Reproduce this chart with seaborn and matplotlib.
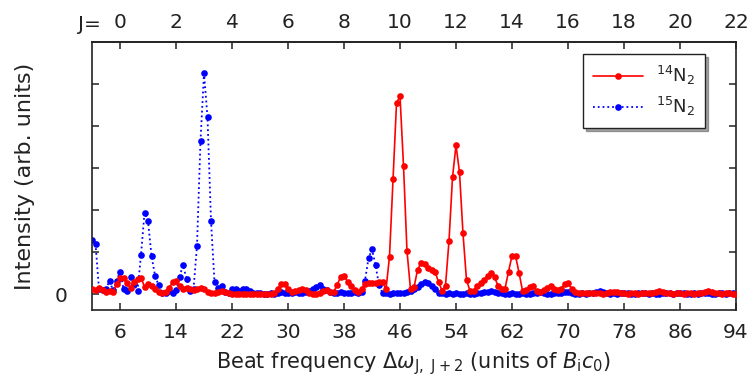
import numpy as np
import matplotlib
matplotlib.use("Agg")
import matplotlib.pyplot as plt
import seaborn as sns

# Beat-frequency grid (units of B_i c_0), sampled every half unit
beat_freq = np.arange(2.0, 94.01, 0.5)

# 14N2 Fourier intensity (arb. units)
n14_intensity = [
    0.12, 0.10, 0.15, 0.10, 0.06, 0.08, 0.05, 0.25, 0.40, 0.38,
    0.28, 0.15, 0.30, 0.36, 0.40, 0.18, 0.25, 0.20, 0.12, 0.05,
    0.04, 0.06, 0.15, 0.29, 0.33, 0.20, 0.14, 0.16, 0.12, 0.10,
    0.14, 0.16, 0.12, 0.06, 0.04, 0.03, 0.05, 0.08, 0.06, 0.04,
    0.02, 0.02, 0.01, 0.02, 0.01, 0.00, 0.00, 0.00, 0.01, 0.00,
    0.01, 0.02, 0.03, 0.12, 0.24, 0.24, 0.12, 0.05, 0.08, 0.10,
    0.12, 0.10, 0.04, 0.02, 0.02, 0.04, 0.08, 0.10, 0.05, 0.05,
    0.22, 0.41, 0.44, 0.30, 0.20, 0.10, 0.05, 0.12, 0.24, 0.27,
    0.28, 0.28, 0.30, 0.30, 0.12, 0.90, 2.74, 4.54, 4.72, 3.06,
    1.03, 0.12, 0.17, 0.58, 0.75, 0.72, 0.64, 0.59, 0.54, 0.30,
    0.09, 0.21, 1.27, 2.78, 3.55, 2.90, 1.45, 0.34, 0.09, 0.09,
    0.20, 0.26, 0.34, 0.44, 0.50, 0.42, 0.20, 0.12, 0.14, 0.54,
    0.92, 0.92, 0.52, 0.09, 0.10, 0.18, 0.20, 0.09, 0.06, 0.10,
    0.16, 0.20, 0.14, 0.10, 0.14, 0.24, 0.26, 0.14, 0.06, 0.04,
    0.03, 0.03, 0.04, 0.03, 0.03, 0.03, 0.02, 0.03, 0.05, 0.06,
    0.06, 0.04, 0.03, 0.02, 0.03, 0.03, 0.02, 0.03, 0.03, 0.04,
    0.04, 0.05, 0.07, 0.06, 0.04, 0.03, 0.02, 0.03, 0.03, 0.02,
    0.03, 0.03, 0.02, 0.03, 0.04, 0.05, 0.07, 0.06, 0.04, 0.03,
    0.02, 0.03, 0.03, 0.02, 0.02,
]

# 15N2 Fourier intensity (arb. units)
n15_intensity = [
    1.29, 1.21, 0.12, 0.10, 0.14, 0.32, 0.10, 0.32, 0.54, 0.14,
    0.08, 0.42, 0.25, 0.08, 0.94, 1.94, 1.75, 0.92, 0.45, 0.22,
    0.04, 0.04, 0.09, 0.04, 0.10, 0.42, 0.70, 0.37, 0.08, 0.12,
    1.16, 3.65, 5.26, 4.21, 1.75, 0.29, 0.16, 0.21, 0.05, 0.04,
    0.13, 0.13, 0.09, 0.13, 0.12, 0.07, 0.04, 0.03, 0.03, 0.02,
    0.02, 0.03, 0.02, 0.03, 0.05, 0.04, 0.03, 0.04, 0.06, 0.04,
    0.03, 0.05, 0.08, 0.12, 0.18, 0.22, 0.14, 0.10, 0.06, 0.04,
    0.03, 0.05, 0.04, 0.03, 0.04, 0.05, 0.04, 0.06, 0.33, 0.86,
    1.07, 0.70, 0.22, 0.04, 0.03, 0.02, 0.03, 0.04, 0.03, 0.03,
    0.05, 0.08, 0.12, 0.17, 0.25, 0.30, 0.28, 0.20, 0.13, 0.04,
    0.03, 0.02, 0.03, 0.02, 0.03, 0.02, 0.02, 0.03, 0.02, 0.02,
    0.03, 0.04, 0.06, 0.05, 0.08, 0.06, 0.04, 0.03, 0.02, 0.02,
    0.03, 0.02, 0.02, 0.03, 0.02, 0.02, 0.03, 0.04, 0.05, 0.03,
    0.02, 0.02, 0.03, 0.03, 0.04, 0.06, 0.05, 0.03, 0.02, 0.02,
    0.03, 0.02, 0.03, 0.04, 0.06, 0.07, 0.05, 0.03, 0.02, 0.03,
    0.02, 0.03, 0.04, 0.03, 0.02, 0.02, 0.03, 0.04, 0.03, 0.02,
    0.03, 0.02, 0.02, 0.03, 0.04, 0.03, 0.02, 0.03, 0.04, 0.03,
    0.02, 0.02, 0.03, 0.02, 0.03, 0.04, 0.03, 0.02, 0.02, 0.03,
    0.03, 0.02, 0.03, 0.03, 0.02,
]

series_labels = [r"$^{14}$N$_2$", r"$^{15}$N$_2$"]
series_colors = ["#ff0000", "#0000ff"]

bottom_ticks = list(range(6, 95, 8))
top_ticks_J = list(range(0, 23, 2))
y_ticks = [0, 1, 2, 3, 4, 5]
y_tick_labels = ["0", "", "", "", "", ""]

sns.set_style("ticks")
plt.rcParams["font.family"] = ["DejaVu Sans"]
plt.rcParams["mathtext.fontset"] = "dejavusans"

W, H = 753, 383
fig = plt.figure(figsize=(W / 100, H / 100), dpi=100)
ax = fig.add_axes([92 / W, 1 - 310 / H, (736 - 92) / W, (310 - 42) / H])

sns.lineplot(x=beat_freq, y=n14_intensity, ax=ax, color=series_colors[0],
             linestyle="-", linewidth=1.2, marker="o", markersize=4.8,
             markeredgewidth=0, label=series_labels[0], zorder=3)
sns.lineplot(x=beat_freq, y=n15_intensity, ax=ax, color=series_colors[1],
             linestyle=":", linewidth=1.3, marker="o", markersize=4.8,
             markeredgewidth=0, label=series_labels[1], zorder=2)

ax.set_xlim(2, 94)
ax.set_ylim(-0.37, 6.0)
ax.set_xticks(bottom_ticks)
ax.set_yticks(y_ticks)
ax.set_yticklabels(y_tick_labels)

for side in ["left", "right", "top", "bottom"]:
    ax.spines[side].set_visible(True)
    ax.spines[side].set_linewidth(1.2)
    ax.spines[side].set_color("#222222")

ax.tick_params(axis="x", which="both", direction="in", length=5, width=1.1,
               top=False, bottom=True, pad=9, labelsize=14.5, colors="#222222")
ax.tick_params(axis="y", which="both", direction="in", length=5, width=1.1,
               left=True, right=True, pad=18, labelsize=14.5, colors="#222222")

# rotational quantum number J on the upper axis: beat frequency = 4J + 6
sec = ax.secondary_xaxis("top", functions=(lambda b: (b - 6) / 4.0,
                                           lambda j: 4.0 * j + 6))
sec.set_xticks(top_ticks_J)
sec.tick_params(direction="in", length=5, width=1.1, pad=7, labelsize=14.5,
                colors="#222222")
sec.spines["top"].set_linewidth(1.2)
fig.text(101 / W, 1 - 24 / H, "J=", ha="right", va="center", fontsize=14.5,
         color="#222222")

ax.set_xlabel(r"Beat frequency $\Delta\omega_{\mathrm{J,\ J+2}}$ (units of $B_{\mathrm{i}}c_{0}$)",
              fontsize=15, labelpad=6, color="#222222")
ax.set_ylabel("Intensity (arb. units)", fontsize=16, labelpad=14, color="#222222")

leg = ax.legend(loc="upper right", bbox_to_anchor=(0.952, 0.955),
                borderaxespad=0, frameon=True, fancybox=False, shadow=True,
                edgecolor="#222222", framealpha=1, fontsize=13,
                handlelength=2.8, handletextpad=0.7, borderpad=0.55,
                labelspacing=0.45)
leg.get_frame().set_linewidth(1.0)

fig.savefig("out.png", dpi=100, facecolor="white")
